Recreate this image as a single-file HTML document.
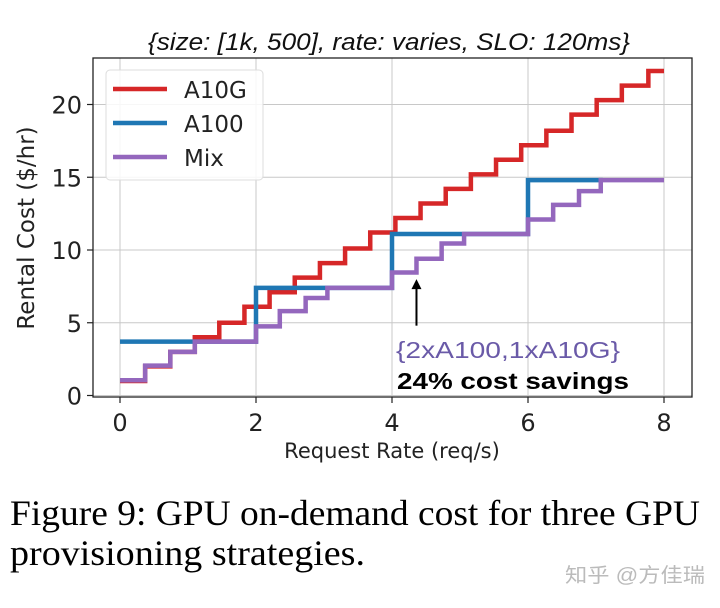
<!DOCTYPE html>
<html><head><meta charset="utf-8"><style>
body{margin:0;background:#fff;width:720px;height:603px;overflow:hidden}
</style></head><body>
<svg id="chart" width="720" height="603" viewBox="0 0 720 603" xmlns="http://www.w3.org/2000/svg" style="font-family:'DejaVu Sans','Liberation Sans',sans-serif">
<text x="389" y="50" text-anchor="middle" font-size="24" font-style="italic" textLength="482" lengthAdjust="spacingAndGlyphs" fill="#111" style="font-family:'Liberation Sans',sans-serif">{size: [1k, 500], rate: varies, SLO: 120ms}</text>
<g id="grid"></g>
<g id="series"></g>
<rect x="93" y="58" width="599" height="339" fill="none" stroke="#222" stroke-width="1.3"/>
<g id="ticks"></g>
<text x="392" y="458" text-anchor="middle" font-size="21" fill="#222">Request Rate (req/s)</text>
<text transform="translate(34,228) rotate(-90)" text-anchor="middle" font-size="23" fill="#222">Rental Cost ($/hr)</text>
<g>
<rect x="106" y="70" width="157" height="110" rx="4" fill="#fff" fill-opacity="0.85" stroke="#ddd"/>
<line x1="113" y1="89" x2="167" y2="89" stroke="#d62728" stroke-width="4.5"/>
<text x="184" y="98" font-size="23" fill="#222">A10G</text>
<line x1="113" y1="123" x2="167" y2="123" stroke="#1f77b4" stroke-width="4.5"/>
<text x="184" y="132" font-size="23" fill="#222">A100</text>
<line x1="113" y1="157" x2="167" y2="157" stroke="#9467bd" stroke-width="4.5"/>
<text x="184" y="166" font-size="23" fill="#222">Mix</text>
</g>
<g id="annot">
<text x="396" y="358" font-size="23" fill="#6a5aa8" style="font-family:'Liberation Sans',sans-serif" textLength="224" lengthAdjust="spacingAndGlyphs">{2xA100,1xA10G}</text>
<text x="397" y="389" font-size="23" font-weight="bold" fill="#000" style="font-family:'Liberation Sans',sans-serif" textLength="232" lengthAdjust="spacingAndGlyphs">24% cost savings</text>
</g>
<text x="10" y="525" font-size="36" fill="#000" style="font-family:'Liberation Serif',serif" textLength="690" lengthAdjust="spacingAndGlyphs">Figure 9: GPU on-demand cost for three GPU</text>
<text x="10" y="565" font-size="36" fill="#000" style="font-family:'Liberation Serif',serif" textLength="355" lengthAdjust="spacingAndGlyphs">provisioning strategies.</text>
<text x="565" y="582" font-size="20" fill="#bbb" style="font-family:'Liberation Sans','Noto Sans CJK SC',sans-serif" textLength="140" lengthAdjust="spacingAndGlyphs">知乎 @方佳瑞</text>
</svg>
<script>
const xTicks=[0,2,4,6,8];
const yTicks=[0,5,10,15,20];
const a10gX=[0,0.37,0.74,1.1,1.46,1.83,2.2,2.57,2.94,3.31,3.68,4.05,4.42,4.79,5.16,5.53,5.9,6.27,6.64,7.01,7.38,7.77,8.0];
const a10gY=[1,2,3,4,5,6.1,7.1,8.1,9.1,10.1,11.2,12.2,13.2,14.2,15.2,16.2,17.2,18.2,19.3,20.3,21.3,22.3];
const a100X=[0,2,4,6,7.1];
const a100Y=[3.7,7.4,11.1,14.8];
const mixX=[0,0.37,0.74,1.1,2,2.35,2.73,3.05,4,4.36,4.73,5.06,6,6.37,6.75,7.07,8.0];
const mixY=[1.05,2.05,3.0,3.7,4.75,5.8,6.7,7.4,8.45,9.4,10.45,11.1,12.1,13.1,14.05,14.8];
const arrowX=4.36, arrowY0=4.8, arrowY1=8.0;
const X=v=>120+v*68, Y=v=>395.5-v*14.55;
const NS="http://www.w3.org/2000/svg";
function mk(tag,attrs,parent){const e=document.createElementNS(NS,tag);for(const k in attrs)e.setAttribute(k,attrs[k]);parent.appendChild(e);return e;}
const grid=document.getElementById('grid'),ticks=document.getElementById('ticks'),ser=document.getElementById('series');
xTicks.forEach(t=>{
 const g=mk('line',{x1:X(t),x2:X(t),y1:58,y2:397,stroke:'#c8c8c8','stroke-width':1},grid);
 
 
 const tk=mk('line',{x1:X(t),x2:X(t),y1:397,y2:403,stroke:'#222','stroke-width':1.2},ticks);
 
 
 const l=mk('text',{x:X(t),y:431,'text-anchor':'middle','font-size':24,fill:'#222'},ticks);
 l.textContent=t;
 
 
});
yTicks.forEach(t=>{
 const g=mk('line',{x1:93,x2:692,y1:Y(t),y2:Y(t),stroke:'#c8c8c8','stroke-width':1},grid);
 
 
 const tk=mk('line',{x1:87,x2:93,y1:Y(t),y2:Y(t),stroke:'#222','stroke-width':1.2},ticks);
 
 
 const l=mk('text',{x:82,y:Y(t)+9,'text-anchor':'end','font-size':24,fill:'#222'},ticks);
 l.textContent=t;
 
 
});
function step(xs,ys){let d='M'+X(xs[0])+','+Y(ys[0]);for(let i=0;i<ys.length;i++){if(i>0)d+='V'+Y(ys[i]);d+='H'+X(xs[i+1]);}return d;}
const pr=mk('path',{d:step(a10gX,a10gY),fill:'none',stroke:'#d62728','stroke-width':4.5},ser);


const pb=mk('path',{d:step(a100X,a100Y),fill:'none',stroke:'#1f77b4','stroke-width':4.5},ser);


const pm=mk('path',{d:step(mixX,mixY),fill:'none',stroke:'#9467bd','stroke-width':4.5},ser);


const an=document.getElementById('annot');
const ar=mk('line',{x1:X(arrowX),x2:X(arrowX),y1:Y(arrowY0),y2:Y(arrowY1)+8,stroke:'#000','stroke-width':2},an);


const ah=mk('path',{d:`M${X(arrowX)-5},${Y(arrowY1)+10}L${X(arrowX)},${Y(arrowY1)}L${X(arrowX)+5},${Y(arrowY1)+10}Z`,fill:'#000'},an);


</script>
</body></html>
